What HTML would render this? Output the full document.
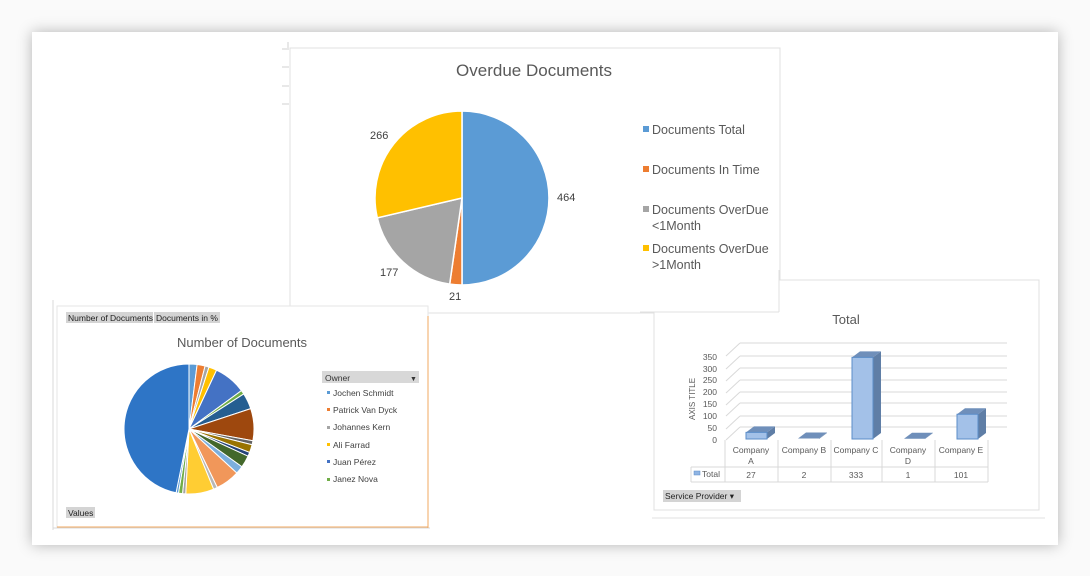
<!DOCTYPE html>
<html><head><meta charset="utf-8"><style>
html,body{margin:0;padding:0;background:#fafafa;}
body{width:1090px;height:576px;overflow:hidden;position:relative;font-family:"Liberation Sans",sans-serif;}
#card{position:absolute;left:32px;top:32px;width:1026px;height:513px;background:#fff;box-shadow:0 0 14px rgba(0,0,0,0.28);}
svg{position:absolute;left:0;top:0;}
</style></head><body>
<div id="card"></div>
<svg id="s" width="1090" height="576" font-family="Liberation Sans, sans-serif">
<!-- center chart -->
<g stroke="#d0d0d0" stroke-width="1">
<line x1="288" y1="42" x2="288" y2="48"/><line x1="282" y1="49" x2="289" y2="49"/><line x1="282" y1="67" x2="289" y2="67"/><line x1="282" y1="86" x2="289" y2="86"/><line x1="282" y1="104" x2="289" y2="104"/>
</g>
<rect x="290" y="48" width="490" height="265" fill="#fff" stroke="#e0e0e0"/>
<text x="534" y="76" font-size="17" fill="#595959" text-anchor="middle">Overdue Documents</text>
<g id="mainpie"></g>
<g font-size="11" fill="#404040">
<text x="557" y="201">464</text><text x="449" y="300">21</text><text x="380" y="276">177</text><text x="370" y="139">266</text>
</g>
<g font-size="12.5" fill="#595959">
<rect x="643" y="126" width="6" height="6" fill="#5b9bd5"/><text x="652" y="134">Documents Total</text>
<rect x="643" y="166" width="6" height="6" fill="#ed7d31"/><text x="652" y="174">Documents In Time</text>
<rect x="643" y="206" width="6" height="6" fill="#a5a5a5"/><text x="652" y="214">Documents OverDue</text><text x="652" y="230">&lt;1Month</text>
<rect x="643" y="245" width="6" height="6" fill="#ffc000"/><text x="652" y="253">Documents OverDue</text><text x="652" y="269">&gt;1Month</text>
</g>
<!-- left chart -->
<g stroke="#d8d8d8"><line x1="53" y1="300" x2="53" y2="530"/><line x1="53" y1="528" x2="430" y2="528"/></g>
<rect x="57" y="306" width="371" height="221" fill="#fff" stroke="#e6e6e6"/>
<line x1="428" y1="316" x2="428" y2="528" stroke="#f0a860" stroke-width="1"/>
<line x1="57" y1="527" x2="428" y2="527" stroke="#f0a860" stroke-width="1"/>
<rect x="66" y="312" width="87" height="11" fill="#d4d4d4"/><text x="68" y="321" font-size="8.5" fill="#222">Number of Documents</text>
<rect x="154" y="312" width="66" height="11" fill="#d4d4d4"/><text x="156" y="321" font-size="8.5" fill="#222">Documents in %</text>
<rect x="66" y="507" width="29" height="11" fill="#d4d4d4"/><text x="68" y="516" font-size="8.5" fill="#222">Values</text>
<text x="242" y="347" font-size="13" fill="#595959" text-anchor="middle">Number of Documents</text>
<g id="leftpie"></g>
<rect x="322" y="371" width="97" height="12" fill="#d8d8d8"/><text x="325" y="381" font-size="8.5" fill="#333">Owner</text><text x="410" y="381" font-size="7" fill="#333">▼</text>
<g font-size="8.5" fill="#404040">
<rect x="327" y="391" width="3" height="3" fill="#5b9bd5"/><text x="333" y="396">Jochen Schmidt</text>
<rect x="327" y="408" width="3" height="3" fill="#ed7d31"/><text x="333" y="413">Patrick Van Dyck</text>
<rect x="327" y="426" width="3" height="3" fill="#a5a5a5"/><text x="333" y="430">Johannes Kern</text>
<rect x="327" y="443" width="3" height="3" fill="#ffc000"/><text x="333" y="448">Ali Farrad</text>
<rect x="327" y="460" width="3" height="3" fill="#4472c4"/><text x="333" y="465">Juan Pérez</text>
<rect x="327" y="478" width="3" height="3" fill="#70ad47"/><text x="333" y="482">Janez Nova</text>
</g>
<!-- right chart -->
<rect x="654" y="280" width="385" height="230" fill="#fff" stroke="#e0e0e0"/>
<rect x="640" y="270" width="139" height="42" fill="#fff"/>
<line x1="640" y1="312" x2="779" y2="312" stroke="#e0e0e0"/><line x1="779" y1="270" x2="779" y2="312" stroke="#e0e0e0"/>
<g stroke="#e0e0e0"><line x1="652" y1="518" x2="1045" y2="518"/></g>
<text x="846" y="324" font-size="13" fill="#595959" text-anchor="middle">Total</text>
<g stroke="#d9d9d9" stroke-width="1" id="grid"></g>
<g font-size="8.5" fill="#595959" text-anchor="end">
<text x="717" y="360">350</text><text x="717" y="372">300</text><text x="717" y="383">250</text><text x="717" y="395">200</text><text x="717" y="407">150</text><text x="717" y="419">100</text><text x="717" y="431">50</text><text x="717" y="443">0</text>
</g>
<text transform="translate(695,420) rotate(-90)" font-size="8" fill="#595959">AXIS TITLE</text>
<g id="bars"></g>
<g stroke="#d9d9d9" fill="none">
<line x1="725" y1="440" x2="725" y2="482"/><line x1="778" y1="440" x2="778" y2="482"/><line x1="831" y1="440" x2="831" y2="482"/><line x1="882" y1="440" x2="882" y2="482"/><line x1="935" y1="440" x2="935" y2="482"/><line x1="988" y1="440" x2="988" y2="482"/>
<line x1="691" y1="467" x2="988" y2="467"/><line x1="691" y1="482" x2="988" y2="482"/><line x1="691" y1="467" x2="691" y2="482"/>
</g>
<g font-size="8.5" fill="#595959" text-anchor="middle">
<text x="751" y="453">Company</text><text x="751" y="464">A</text>
<text x="804" y="453">Company B</text><text x="856" y="453">Company C</text>
<text x="908" y="453">Company</text><text x="908" y="464">D</text>
<text x="961" y="453">Company E</text>
<text x="751" y="478">27</text><text x="804" y="478">2</text><text x="856" y="478">333</text><text x="908" y="478">1</text><text x="961" y="478">101</text>
</g>
<rect x="694" y="471" width="6" height="4" fill="#8fb4e3" stroke="#5b8dc8" stroke-width="0.5"/><text x="702" y="477" font-size="8.5" fill="#595959">Total</text>
<rect x="663" y="490" width="78" height="12" fill="#d4d4d4"/><text x="665" y="499" font-size="8.5" fill="#222">Service Provider ▾</text>
</svg>
<script>
function pie(g,cx,cy,r,vals,cols,gap){
 var tot=vals.reduce((a,b)=>a+b,0),a=0,h='';
 for(var i=0;i<vals.length;i++){var a2=a+vals[i]/tot*2*Math.PI;
  var x1=cx+r*Math.sin(a),y1=cy-r*Math.cos(a),x2=cx+r*Math.sin(a2),y2=cy-r*Math.cos(a2);
  h+='<path d="M'+cx+','+cy+'L'+x1+','+y1+'A'+r+','+r+' 0 '+((a2-a)>Math.PI?1:0)+' 1 '+x2+','+y2+'Z" fill="'+cols[i]+'" stroke="#fff" stroke-width="'+gap+'"/>';a=a2;}
 document.getElementById(g).innerHTML=h;}
pie('mainpie',462,198,87,[464,21,177,266],['#5b9bd5','#ed7d31','#a5a5a5','#ffc000'],1.5);
pie('leftpie',189,429,65,[2,2,1,2,8,1,4,8,1,2,1,3,2,6,1,7,0.8,1,0.6,47],
['#5b9bd5','#ed7d31','#a5a5a5','#ffc000','#4472c4','#70ad47','#255e91','#9e480e','#636363','#997300','#264478','#43682b','#7cafdd','#f1975a','#b7b7b7','#ffcd33','#a5a5a5','#70ad47','#5b9bd5','#2e75c6'],1);
var gh='';[343,356,368,380,392,403,416,427].forEach(function(y){gh+='<line x1="740" y1="'+y+'" x2="1007" y2="'+y+'"/><line x1="726" y1="'+(y+13)+'" x2="740" y2="'+y+'"/>';});
document.getElementById('grid').innerHTML=gh;
var bh='';[[746,27],[798,2],[852,333],[904,1],[957,101]].forEach(function(b){var x=b[0],w=21,top=439-b[1]*0.245,d=8,e=6;
 bh+='<path d="M'+(x+w)+','+top+'l'+d+','+(-e)+'V'+(439-e)+'l'+(-d)+','+e+'Z" fill="#5f7ea6"/>';
 bh+='<path d="M'+x+','+top+'l'+d+','+(-e)+'h'+w+'l'+(-d)+','+e+'Z" fill="#6f8fba"/>';
 if(b[1]>3)bh+='<rect x="'+x+'" y="'+top+'" width="'+w+'" height="'+(439-top)+'" fill="#a3c1e8" stroke="#5b8dc8" stroke-width="1"/>';});
document.getElementById('bars').innerHTML=bh;
</script>
</body></html>
